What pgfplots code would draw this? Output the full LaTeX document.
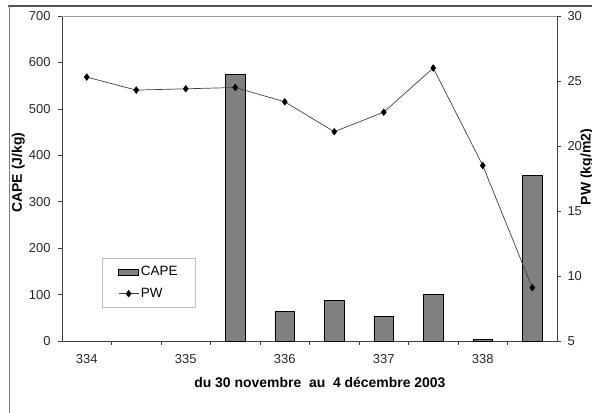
\documentclass[border=0pt]{standalone}
\usepackage{fontspec}
\setmainfont{Liberation Sans}
\usepackage{pgfplots}
\pgfplotsset{compat=1.18}
\definecolor{barcol}{HTML}{808080}
\definecolor{axcol}{HTML}{404040}
\pgfplotsset{
  common/.style={
    at={(0bp,0bp)}, anchor=south west,
    width=495bp, height=325bp, scale only axis,
    xmin=0.5, xmax=10.5,
    /pgf/number format/assume math mode=true,
    tick label style={font=\fontsize{13}{15}\selectfont, text=black!85},
    label style={font=\bfseries\fontsize{14}{16}\selectfont},
    tick style={axcol, line width=0.6bp},
    major tick length=4bp, minor tick length=4bp,
    tick align=outside,
    axis line style={axcol, line width=0.8bp},
  },
  pwlegend/.style={legend image code/.code={\draw[##1] (0bp,0bp) -- (20bp,0bp); \draw[##1] plot coordinates {(10bp,0bp)};}},
  barlegend/.style={legend image code/.code={\draw[fill=barcol,draw=black,line width=0.6bp] (0bp,-3bp) rectangle (20bp,3bp);}},
}
\begin{document}
\begin{tikzpicture}
\path[use as bounding box] (-62bp,-72bp) rectangle (530bp,341bp);
\begin{axis}[common,
  ymin=0, ymax=700,
  axis x line*=bottom, axis y line*=left,
  ytick={0,100,...,700},
  xtick={1,3,5,7,9}, xticklabels={334,335,336,337,338},
  minor xtick={1.5,2.5,3.5,4.5,5.5,6.5,7.5,8.5,9.5},
  major x tick style={draw=none},
  xticklabel style={yshift=-6bp},
  yticklabel style={xshift=-4bp},
  ylabel={CAPE (J/kg)},
  ylabel style={at={(axis description cs:-0.1087,0.518)}, anchor=north},
  xlabel={du 30 novembre\ \ au\ \ 4 décembre 2003},
  xlabel style={at={(axis description cs:0.521,-0.1437)}, anchor=base},
  ybar, bar width=0.4,
]
\addplot[fill=barcol, draw=black, line width=0.6bp] coordinates {
(4,574) (5,64) (6,87) (7,53) (8,101) (9,3) (10,356)};
\end{axis}
\begin{axis}[common,
  ymin=5, ymax=30,
  axis x line=none, axis y line*=right,
  ytick={5,10,...,30},
  yticklabel style={xshift=3bp},
  ylabel={PW (kg/m2)},
  ylabel style={at={(axis description cs:1.0404,0.535)}, anchor=north},
  legend style={at={(axis description cs:0.0808,0.255)}, anchor=north west,
    draw=gray!50, line width=0.6bp, font=\fontsize{13.5}{15}\selectfont,
    inner xsep=16bp, inner ysep=7bp, row sep=9bp, cells={anchor=west},
    nodes={inner xsep=2bp, inner ysep=1bp}},
  legend cell align=left,
]
\addlegendimage{barlegend}
\addlegendentry{CAPE}
\addplot[axcol, line width=0.7bp, mark=diamond*, mark options={black, fill=black}, mark size=3.2bp, pwlegend]
coordinates {
(1,25.3) (2,24.3) (3,24.4) (4,24.5) (5,23.4) (6,21.1) (7,22.6) (8,26.0) (9,18.5) (10,9.1)};
\addlegendentry{PW}
\end{axis}
\draw[gray!80, line width=0.6bp] (0bp,325bp) -- (495bp,325bp);
\draw[axcol!90, line width=1.7bp] (-54bp,335.3bp) -- (530bp,335.3bp);
\draw[gray, line width=1bp] (-52.5bp,336bp) -- (-52.5bp,-72bp);
\end{tikzpicture}
\end{document}
